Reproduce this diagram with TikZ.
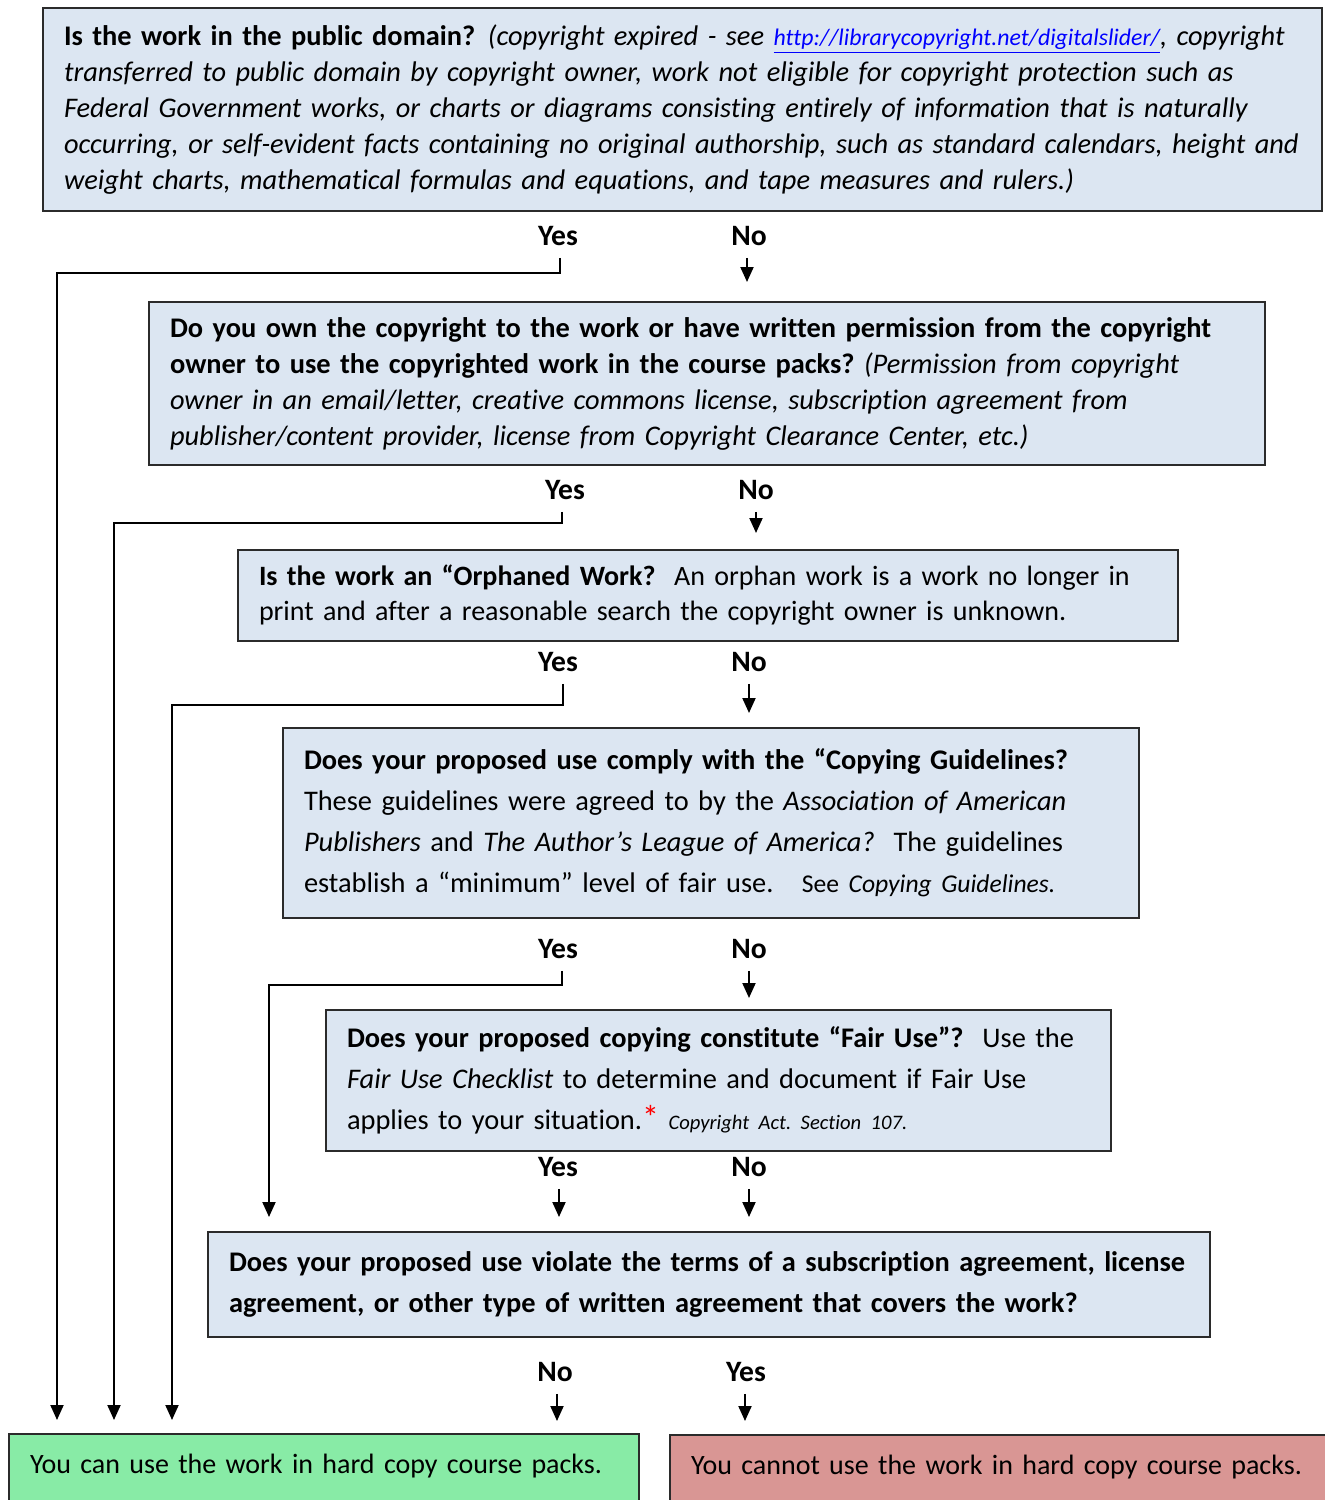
\documentclass[tikz,border=0pt]{standalone}
\usepackage{fontspec}
\setmainfont{Carlito}[Ligatures=NoCommon]
\usetikzlibrary{arrows.meta}
\definecolor{boxblue}{HTML}{DCE6F2}
\definecolor{okgreen}{HTML}{88EBA6}
\definecolor{nored}{HTML}{D99694}
\definecolor{edgec}{HTML}{2B2B2B}
\newcommand\Lline[1]{\mbox{#1}}
\frenchspacing
\begin{document}
\begin{tikzpicture}[x=0.5pt,y=-0.5pt,
  qbox/.style={draw=edgec, line width=1pt, fill=boxblue, align=left, inner xsep=10.5pt, inner ysep=0pt},
  endbox/.style={draw=edgec, line width=1pt, align=left, inner xsep=10.5pt, inner ysep=0pt,
     text height=19.5pt, text depth=40pt, anchor=north west, font=\fontsize{14}{18}\selectfont},
  lbl/.style={font=\bfseries\fontsize{14.8}{15}\selectfont, inner sep=0pt, text height=9.4pt, text depth=0pt},
  arr/.style={line width=1pt, shorten <=6pt, -{Triangle[length=7.5pt,width=6.5pt]}},
]
\useasboundingbox (0,0) rectangle (1325,1500);

% question boxes
\node[qbox, minimum width=639.5pt, minimum height=101.5pt, text width=618.5pt,
      font=\fontsize{14.2}{18}\selectfont] (q1) at (682.5,109.5)
 {\Lline{\textbf{Is the work in the public domain?}\hspace{0.45em}\textit{(copyright expired - see {\fontsize{11.9}{18}\selectfont\color{blue}\underline{http://librarycopyright.net/digitalslider/}}, copyright}}\\
  \Lline{\textit{transferred to public domain by copyright owner, work not eligible for copyright protection such as}}\\
  \Lline{\textit{Federal Government works, or charts or diagrams consisting entirely of information that is naturally}}\\
  \Lline{\textit{occurring, or self-evident facts containing no original authorship, such as standard calendars, height and}}\\
  \Lline{\textit{weight charts, mathematical formulas and equations, and tape measures and rulers.)}}};

\node[qbox, minimum width=558pt, minimum height=81.5pt, text width=537pt,
      font=\fontsize{14.2}{18}\selectfont] (q2) at (707,383.5)
 {\Lline{\textbf{Do you own the copyright to the work or have written permission from the copyright}}\\
  \Lline{\textbf{owner to use the copyrighted work in the course packs?} \textit{(Permission from copyright}}\\
  \Lline{\textit{owner in an email/letter, creative commons license, subscription agreement from}}\\
  \Lline{\textit{publisher/content provider, license from Copyright Clearance Center, etc.)}}};

\node[qbox, minimum width=470pt, minimum height=45.5pt, text width=449pt,
      font=\fontsize{14}{17.5}\selectfont] (q3) at (708,595.5)
 {\Lline{\textbf{Is the work an “Orphaned Work?}~ An orphan work is a work no longer in}\\
  \Lline{print and after a reasonable search the copyright owner is unknown.}};

\node[qbox, minimum width=428pt, minimum height=95pt, text width=407pt,
      font=\fontsize{14.2}{20.5}\selectfont] (q4) at (711,823)
 {\Lline{\textbf{Does your proposed use comply with the “Copying Guidelines?}}\\
  \Lline{These guidelines were agreed to by the \textit{Association of American}}\\
  \Lline{\textit{Publishers} and \textit{The Author’s League of America?}~ The guidelines}\\
  \Lline{establish a “minimum” level of fair use.~~ {\fontsize{12.8}{20.5}\selectfont See \textit{Copying Guidelines.}}}};

\node[qbox, minimum width=392.5pt, minimum height=70.5pt, text width=371.5pt,
      font=\fontsize{14.2}{20.5}\selectfont] (q5) at (718.5,1080.5)
 {\Lline{\textbf{Does your proposed copying constitute “Fair Use”?}~ Use the}\\
  \Lline{\textit{Fair Use Checklist} to determine and document if Fair Use}\\
  \Lline{applies to your situation.{\fontsize{17}{20.5}\selectfont\color{red}*} {\fontsize{10.3}{20.5}\selectfont\itshape Copyright Act. Section 107.}}};

\node[qbox, minimum width=501pt, minimum height=52.5pt, text width=480pt,
      font=\fontsize{14.2}{20.5}\selectfont] (q6) at (709,1284.5)
 {\Lline{\textbf{Does your proposed use violate the terms of a subscription agreement, license}}\\
  \Lline{\textbf{agreement, or other type of written agreement that covers the work?}}};

% outcome boxes
\node[endbox, fill=okgreen, text width=294pt] (g) at (8,1433)
 {You can use the work in hard copy course packs.};
\node[endbox, fill=nored, text width=329pt] (r) at (669,1434)
 {You cannot use the work in hard copy course packs.};

% labels
\node[lbl] (y1) at (558,236) {Yes};
\node[lbl] (n1) at (749,236) {No};
\node[lbl] (y2) at (565,490) {Yes};
\node[lbl] (n2) at (756,490) {No};
\node[lbl] (y3) at (558,662) {Yes};
\node[lbl] (n3) at (749,662) {No};
\node[lbl] (y4) at (558,949) {Yes};
\node[lbl] (n4) at (749,949) {No};
\node[lbl] (y5) at (558,1167) {Yes};
\node[lbl] (n5) at (749,1167) {No};
\node[lbl] (n6) at (555,1372) {No};
\node[lbl] (y6) at (746,1372) {Yes};

% bend coordinates
\coordinate (k1) at (57,273);
\coordinate (k2) at (114,523);
\coordinate (k3) at (172,705);
\coordinate (k4) at (269,985);

% Yes branches to "can use"
\draw[arr, shorten >=6.5pt] ([xshift=1pt]y1.south) |- (k1) -- (k1 |- g.north);
\draw[arr, shorten >=6.5pt] ([xshift=-1.5pt]y2.south) |- (k2) -- (k2 |- g.north);
\draw[arr, shorten >=6.5pt] ([xshift=2.5pt]y3.south) |- (k3) -- (k3 |- g.north);
\draw[arr, shorten >=7pt] ([xshift=2pt]y4.south) |- (k4) -- (k4 |- q6.north);

% No branches
\draw[arr, shorten >=9.5pt] ([xshift=-1pt]n1.south) -- ([xshift=-1pt]n1.south |- q2.north);
\draw[arr, shorten >=8pt] (n2.south) -- (n2.south |- q3.north);
\draw[arr, shorten >=7pt] (n3.south) -- (n3.south |- q4.north);
\draw[arr, shorten >=5.5pt] (n4.south) -- (n4.south |- q5.north);
\draw[arr, shorten >=7pt] ([xshift=0.5pt]y5.south) -- ([xshift=0.5pt]y5.south |- q6.north);
\draw[arr, shorten >=7pt] (n5.south) -- (n5.south |- q6.north);
\draw[arr, shorten >=6pt] ([xshift=1pt]n6.south) -- ([xshift=1pt]n6.south |- g.north);
\draw[arr, shorten >=6.5pt] ([xshift=-0.5pt]y6.south) -- ([xshift=-0.5pt]y6.south |- r.north);
\end{tikzpicture}
\end{document}
